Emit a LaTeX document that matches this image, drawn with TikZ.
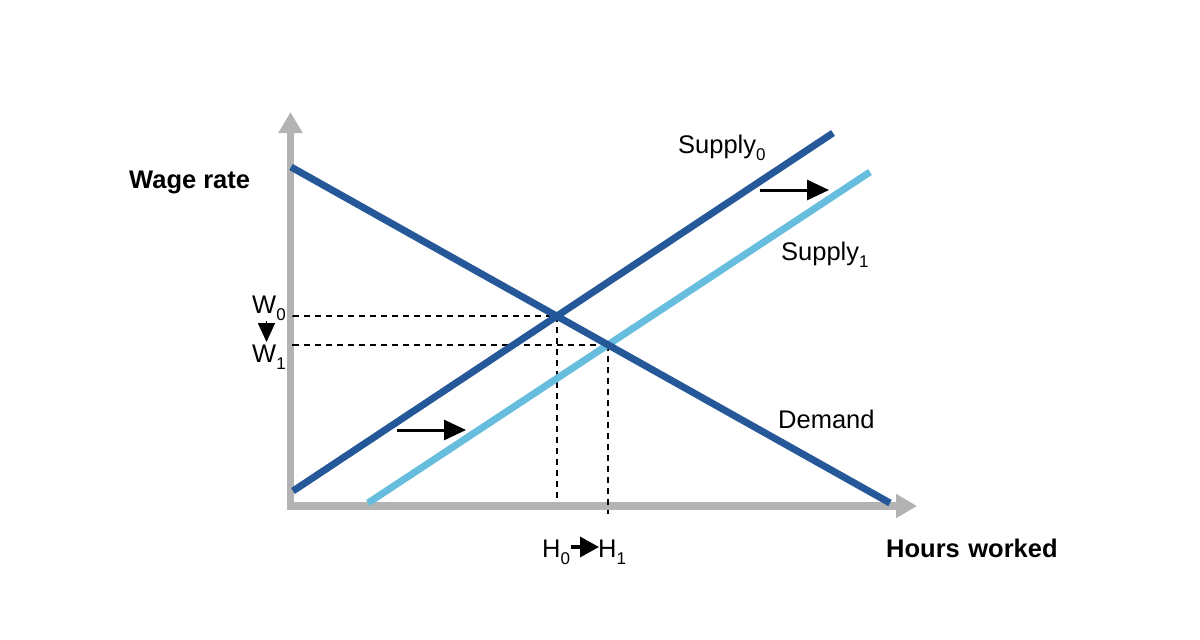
\documentclass[tikz,border=0pt]{standalone}
\usepackage{fontspec}
\setmainfont{Liberation Sans}
\usetikzlibrary{arrows.meta}
\definecolor{axisgray}{RGB}{179,179,179}
\definecolor{darkblue}{RGB}{36,88,153}
\definecolor{lightblue}{RGB}{102,189,221}
\newcommand{\sbs}[1]{\raisebox{-7.5pt}{\fontsize{17}{19}\selectfont #1}}
\tikzset{
  axis/.style={draw=axisgray,line width=7.5pt,-{Triangle[length=21pt,width=23pt]}},
  curve/.style={line width=7pt},
  guide/.style={line width=1.8pt,dash pattern=on 6pt off 5pt},
  shiftarrow/.style={line width=3pt,-{Triangle[length=22pt,width=20pt]}},
  lbl/.style={font=\fontsize{25.5}{30}\selectfont,inner sep=0pt,anchor=base west},
  blbl/.style={font=\fontsize{25.5}{30}\selectfont\bfseries,inner sep=0pt,anchor=base west}
}
\begin{document}
\begin{tikzpicture}[x=1pt,y=-1pt]
\useasboundingbox (0,0) rectangle (1200,640);
% axes
\coordinate (ytip) at (290.5,112);
\coordinate (xtip) at (917,506);
\draw[axis] (290.5,510) -- (ytip);
\draw[axis] (287,506) -- (xtip);
% curves
\coordinate (d0) at (291,167);
\coordinate (d1) at (890,503);
\coordinate (s0a) at (293,491);
\coordinate (s0b) at (833,133);
\coordinate (s1a) at (368,503);
\coordinate (s1b) at (870,172);
\coordinate (e0) at (intersection of d0--d1 and s0a--s0b);
\coordinate (e1) at (intersection of d0--d1 and s1a--s1b);
% dashed guides
\coordinate (w0) at (293,316);
\coordinate (w1) at (293,345);
\coordinate (h0) at (559,500);
\coordinate (h1) at (610,514);
\draw[guide] (w0) -- (e0 -| w0) -- (e0);
\draw[guide] (e0) -- (e0 |- h0);
\draw[guide] (w1) -- (e1 -| w1) -- (e1);
\draw[guide] (e1) -- (e1 |- h1);
\draw[curve,lightblue] (s1a) -- (s1b);
\draw[curve,darkblue] (d0) -- (d1);
\draw[curve,darkblue] (s0a) -- (s0b);
% shift arrows
\coordinate (a1s) at (397,430);
\coordinate (a1e) at (466,430);
\coordinate (a2s) at (760,190);
\coordinate (a2e) at (829,190);
\draw[shiftarrow] (a1s) -- (a1e);
\draw[shiftarrow] (a2s) -- (a2e);
% labels
\node[blbl] (wage) at (129,188) {Wage rate};
\node[blbl] (hours) at (886,557) {Hours\,\,worked};
\node[lbl] (sup0) at (678,153) {Supply\sbs{0}};
\node[lbl] (sup1) at (781,260) {Supply\sbs{1}};
\node[lbl] (dem) at (778,428) {Demand};
\node[lbl] (W0) at (252,313) {W\sbs{0}};
\node[lbl] (W1) at (252,362) {W\sbs{1}};
\node[lbl] (H0) at (542,557) {H\sbs{0}};
\node[lbl] (H1) at (598,557) {H\sbs{1}};
\coordinate (wd0) at (266.5,321);
\coordinate (wd1) at (266.5,342);
\draw[line width=1.5pt,-{Triangle[length=19pt,width=17pt]}] (wd0) -- (wd1);
\coordinate (hr0) at (571,547);
\coordinate (hr1) at (599,547);
\draw[line width=3.5pt,-{Triangle[length=19pt,width=20pt]}] (hr0) -- (hr1);
\end{tikzpicture}
\end{document}
